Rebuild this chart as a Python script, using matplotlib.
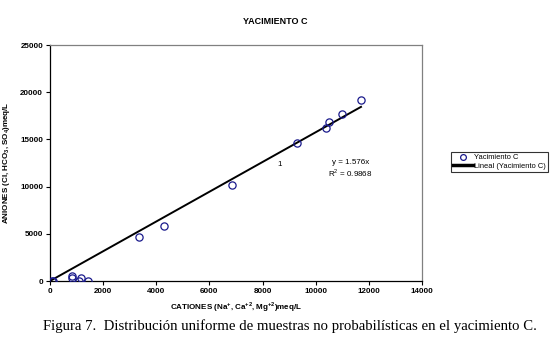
import numpy as np
import matplotlib.pyplot as plt

# --- data ---
cationes = [64, 110, 817, 817, 1155, 1100, 1420, 3360, 4300, 6860,
            9285, 10375, 10500, 11000, 11705]
aniones = [0, 40, 560, 290, 350, 0, 0, 4630, 5860, 10170,
           14590, 16240, 16880, 17660, 19170]
pendiente = 1.576
r2 = 0.9868

x_ticks = [0, 2000, 4000, 6000, 8000, 10000, 12000, 14000]
y_ticks = [0, 5000, 10000, 15000, 20000, 25000]

plt.rcParams['font.family'] = ['Liberation Sans', 'DejaVu Sans']
plt.rcParams['mathtext.fontset'] = 'custom'
plt.rcParams['mathtext.rm'] = 'Liberation Sans'
plt.rcParams['mathtext.bf'] = 'Liberation Sans:bold'

fig = plt.figure(figsize=(5.57, 3.55), dpi=100)
ax = fig.add_axes([50 / 557, 1 - 281 / 355, 372 / 557, 236 / 355])

ax.plot(cationes, aniones, 'o', mfc='none', mec='#1a1a8c', ms=5.2, mew=0.9,
        label='Yacimiento C', zorder=3)
xl = np.array([0, max(cationes)])
ax.plot(xl, pendiente * xl, color='black', lw=1.4, label='Lineal (Yacimiento C)')

ax.set_xlim(0, 14000)
ax.set_ylim(0, 25000)
ax.set_xticks(x_ticks)
ax.set_yticks(y_ticks)
ax.tick_params(labelsize=5.8, length=3, width=0.8, direction='out', pad=2)
for lab in ax.get_xticklabels() + ax.get_yticklabels():
    lab.set_fontweight('bold')

ax.spines['left'].set_color('black')
ax.spines['bottom'].set_color('black')
ax.spines['top'].set_color('#808080')
ax.spines['right'].set_color('#808080')
for s in ax.spines.values():
    s.set_linewidth(0.9)

ax.set_xlabel(r'CATIONES (Na$^{\mathbf{+}}$, Ca$^{\mathbf{+2}}$, Mg$^{\mathbf{+2}}$)meq/L',
              fontsize=5.8, fontweight='bold', labelpad=4)
ax.set_ylabel(r'ANIONES (Cl, HCO$_{\mathbf{3}}$, SO$_{\mathbf{4}}$)meq/L',
              fontsize=5.8, fontweight='bold', labelpad=6)

fig.text(275 / 557, 1 - 21 / 355, 'YACIMIENTO C', ha='center', va='center',
         fontsize=6.5, fontweight='bold')

ax.text(8650, 12300, '1', fontsize=5.8, ha='center', va='center')
ax.text(11300, 11900, 'y = 1.576x\nR$^2$ = 0.9868', fontsize=5.8,
        ha='center', va='center', linespacing=1.1)

leg = ax.legend(loc='center left', bbox_to_anchor=((451 - 50) / 372, (281 - 162) / 236),
                fontsize=5.4, frameon=True, fancybox=False, edgecolor='black',
                handlelength=2.6, borderpad=0.3, labelspacing=0.2,
                handletextpad=0.2, borderaxespad=0, markerscale=0.8)
leg.get_frame().set_linewidth(0.8)
leg.get_lines()[1].set_linewidth(2.5)

fig.text(290 / 557, 1 - 326 / 355,
         'Figura 7.  Distribución uniforme de muestras no probabilísticas en el yacimiento C.',
         ha='center', va='center', fontsize=10.6, family=['Liberation Serif', 'DejaVu Serif'])

fig.savefig('out.png', dpi=100)
